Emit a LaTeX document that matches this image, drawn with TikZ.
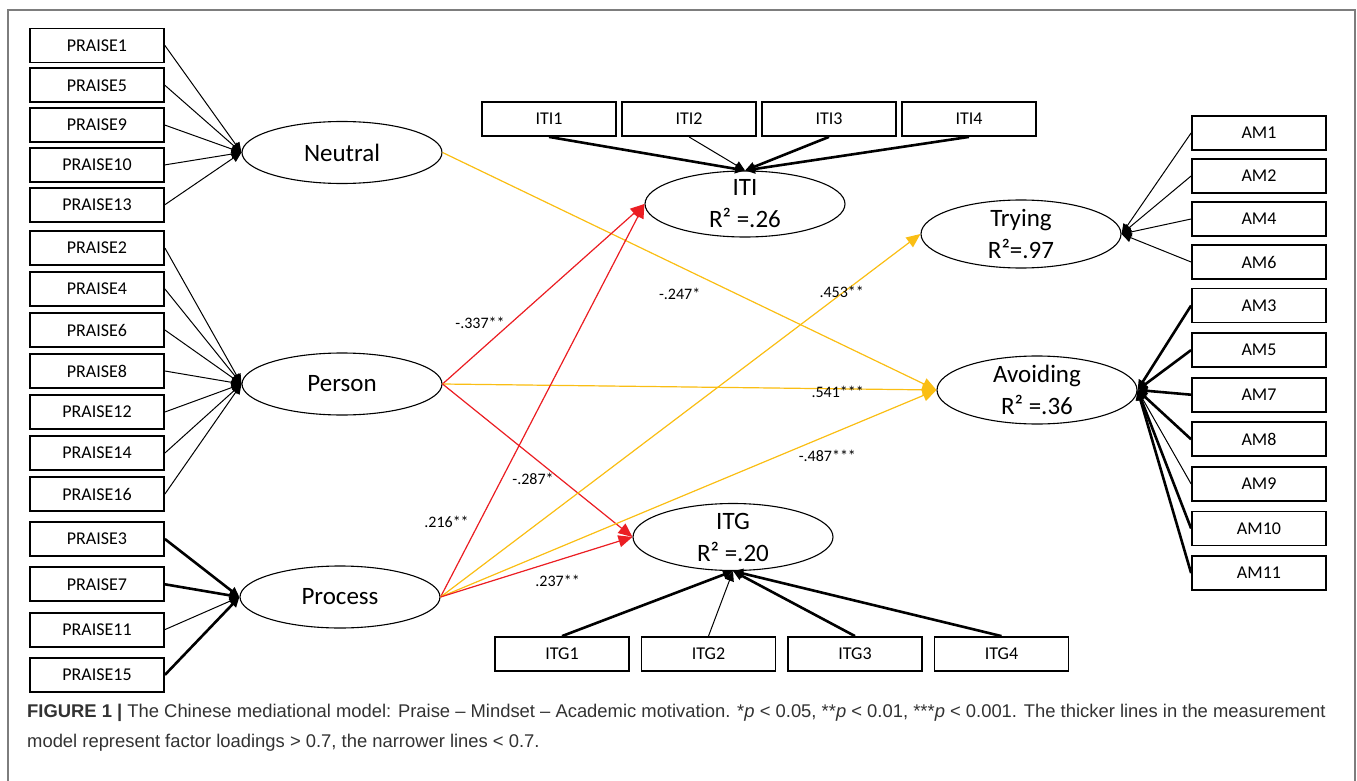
\documentclass[tikz,border=0pt]{standalone}
\usepackage{fontspec}
\setmainfont{Carlito}
\newfontfamily\capfont{Liberation Sans}
\usetikzlibrary{positioning,shapes.geometric,arrows.meta}

\definecolor{pathred}{RGB}{235,30,35}
\definecolor{pathgold}{RGB}{250,190,20}
\definecolor{framegray}{RGB}{125,125,125}
\definecolor{captext}{RGB}{50,50,50}

\begin{document}
\begin{tikzpicture}[%
    x=1pt,
    y=-1pt,
    >={Triangle[length=10pt,width=9pt]},
    indicator/.style={%
      rectangle,
      draw,
      line width=1.8pt,
      minimum width=134pt,
      minimum height=34pt,
      inner sep=0pt,
      font=\fontsize{18}{21}\selectfont
    },
    latent/.style={%
      ellipse,
      draw,
      line width=1.1pt,
      minimum width=200pt,
      minimum height=62pt,
      inner xsep=0pt,
      inner ysep=-11pt,
      align=center,
      font=\fontsize{25}{32}\selectfont
    },
    lowload/.style={->, line width=1pt},
    highload/.style={->, line width=2.6pt},
    redpath/.style={-{Triangle[length=14pt,width=12pt]}, draw=pathred, fill=pathred, line width=1.2pt},
    goldpath/.style={-{Triangle[length=14pt,width=12pt]}, draw=pathgold, fill=pathgold, line width=1.2pt},
    coef/.style={font=\fontsize{16}{19}\selectfont, inner sep=1pt}
  ]
    \useasboundingbox (0,0) rectangle (1357,781);
    \draw[framegray, line width=1.5pt] (8,781) -- (8,10) -- (1355,10) -- (1355,781);

    % praise indicators
    \node[indicator] (p1) at (97,45.5)          {PRAISE1};
    \node[indicator] (p5)  [below=4pt of p1]    {PRAISE5};
    \node[indicator] (p9)  [below=4pt of p5]    {PRAISE9};
    \node[indicator] (p10) [below=4pt of p9]    {PRAISE10};
    \node[indicator] (p13) [below=4pt of p10]   {PRAISE13};

    \node[indicator] (p2) at (97,248)           {PRAISE2};
    \node[indicator] (p4)  [below=5.2pt of p2]  {PRAISE4};
    \node[indicator] (p6)  [below=5.2pt of p4]  {PRAISE6};
    \node[indicator] (p8)  [below=5.2pt of p6]  {PRAISE8};
    \node[indicator] (p12) [below=5.2pt of p8]  {PRAISE12};
    \node[indicator] (p14) [below=5.2pt of p12] {PRAISE14};
    \node[indicator] (p16) [below=5.2pt of p14] {PRAISE16};

    \node[indicator] (p3) at (97,539)           {PRAISE3};
    \node[indicator] (p7)  [below=9.5pt of p3]  {PRAISE7};
    \node[indicator] (p11) [below=9.5pt of p7]  {PRAISE11};
    \node[indicator] (p15) [below=9.5pt of p11] {PRAISE15};

    % latent variables
    \node[latent] (Neutral) at (342,152.5) {Neutral};
    \node[latent] (Person)  at (342,384)   {Person};
    \node[latent] (Process) at (340,597)   {Process};
    \node[latent, minimum height=66pt] (ITI)      at (745,204)  {ITI\\R² =.26};
    \node[latent, minimum height=67pt] (ITG)      at (733,537)  {ITG\\R² =.20};
    \node[latent, minimum height=68pt] (Trying)   at (1021,234) {Trying\\R²=.97};
    \node[latent, minimum height=68pt] (Avoiding) at (1037,390) {Avoiding\\R² =.36};

    % mindset indicators
    \node[indicator] (iti1) at (549,119)          {ITI1};
    \node[indicator] (iti2) [right=4.2pt of iti1] {ITI2};
    \node[indicator] (iti3) [right=4.2pt of iti2] {ITI3};
    \node[indicator] (iti4) [right=4.2pt of iti3] {ITI4};

    \node[indicator] (itg1) at (562,654)           {ITG1};
    \node[indicator] (itg2) [right=10.7pt of itg1] {ITG2};
    \node[indicator] (itg3) [right=10.7pt of itg2] {ITG3};
    \node[indicator] (itg4) [right=10.7pt of itg3] {ITG4};

    % motivation indicators
    \node[indicator] (am1) at (1259,133)        {AM1};
    \node[indicator] (am2) [below=7.2pt of am1] {AM2};
    \node[indicator] (am4) [below=7.2pt of am2] {AM4};
    \node[indicator] (am6) [below=7.2pt of am4] {AM6};

    \node[indicator] (am3) at (1259,305.5)        {AM3};
    \node[indicator] (am5)  [below=8.8pt of am3]  {AM5};
    \node[indicator] (am7)  [below=8.8pt of am5]  {AM7};
    \node[indicator] (am8)  [below=8.8pt of am7]  {AM8};
    \node[indicator] (am9)  [below=8.8pt of am8]  {AM9};
    \node[indicator] (am10) [below=8.8pt of am9]  {AM10};
    \node[indicator] (am11) [below=8.8pt of am10] {AM11};

    % measurement model
    \path (p1.east)  edge[lowload]  (Neutral.west)
          (p5.east)  edge[lowload]  (Neutral.west)
          (p9.east)  edge[lowload]  (Neutral.west)
          (p10.east) edge[lowload]  (Neutral.west)
          (p13.east) edge[lowload]  (Neutral.west)
          (p2.east)  edge[lowload]  (Person.west)
          (p4.east)  edge[lowload]  (Person.west)
          (p6.east)  edge[lowload]  (Person.west)
          (p8.east)  edge[lowload]  (Person.west)
          (p12.east) edge[lowload]  (Person.west)
          (p14.east) edge[lowload]  (Person.west)
          (p16.east) edge[lowload]  (Person.west)
          (p3.east)  edge[highload] (Process.west)
          (p7.east)  edge[highload] (Process.west)
          (p11.east) edge[lowload]  (Process.west)
          (p15.east) edge[highload] (Process.west);

    \path (iti1.south) edge[highload] (ITI.north)
          (iti2.south) edge[lowload]  (ITI.north)
          (iti3.south) edge[highload] (ITI.north)
          (iti4.south) edge[highload] (ITI.north)
          (itg1.north) edge[highload] (ITG.south)
          (itg2.north) edge[lowload]  (ITG.south)
          (itg3.north) edge[highload] (ITG.south)
          (itg4.north) edge[highload] (ITG.south);

    \path (am1.west)  edge[lowload]  (Trying.east)
          (am2.west)  edge[lowload]  (Trying.east)
          (am4.west)  edge[lowload]  (Trying.east)
          (am6.west)  edge[lowload]  (Trying.east)
          (am3.west)  edge[highload] (Avoiding.east)
          (am5.west)  edge[highload] (Avoiding.east)
          (am7.west)  edge[highload] (Avoiding.east)
          (am8.west)  edge[highload] (Avoiding.east)
          (am9.west)  edge[lowload]  (Avoiding.east)
          (am10.west) edge[highload] (Avoiding.east)
          (am11.west) edge[highload] (Avoiding.east);

    % structural paths
    \path (Neutral.east) edge[goldpath] node[coef, pos=.48, below=20pt] {-.247*} (Avoiding.west)
          (Person.east)  edge[redpath]  node[coef, pos=.34, left=5pt] {-.337**} (ITI.west)
          (Person.east)  edge[goldpath] node[coef, pos=.80, yshift=-3pt] {.541***} (Avoiding.west)
          (Person.east)  edge[redpath]  node[coef, pos=.62, left=5pt] {-.287*} (ITG.west)
          (Process.east) edge[redpath]  node[coef, pos=.19, left=9pt] {.216**} (ITI.west)
          (Process.east) edge[goldpath] node[coef, pos=.84, xshift=-2pt] {.453**} (Trying.west)
          (Process.east) edge[goldpath] node[coef, pos=.78, below=13pt] {-.487***} (Avoiding.west)
          (Process.east) edge[redpath]  node[coef, pos=.61, below=13pt] {.237**} (ITG.west);

    \node[anchor=north west, align=left, inner sep=0pt, text=captext,
          font=\capfont\fontsize{18.4}{30}\selectfont] (caption) at (27,704)
      {\textbf{FIGURE 1 |} The Chinese mediational model: Praise – Mindset – Academic motivation. *\textit{p} < 0.05, **\textit{p} < 0.01, ***\textit{p} < 0.001. The thicker lines in the measurement\\model represent factor loadings > 0.7, the narrower lines < 0.7.};
  \end{tikzpicture}
\end{document}
